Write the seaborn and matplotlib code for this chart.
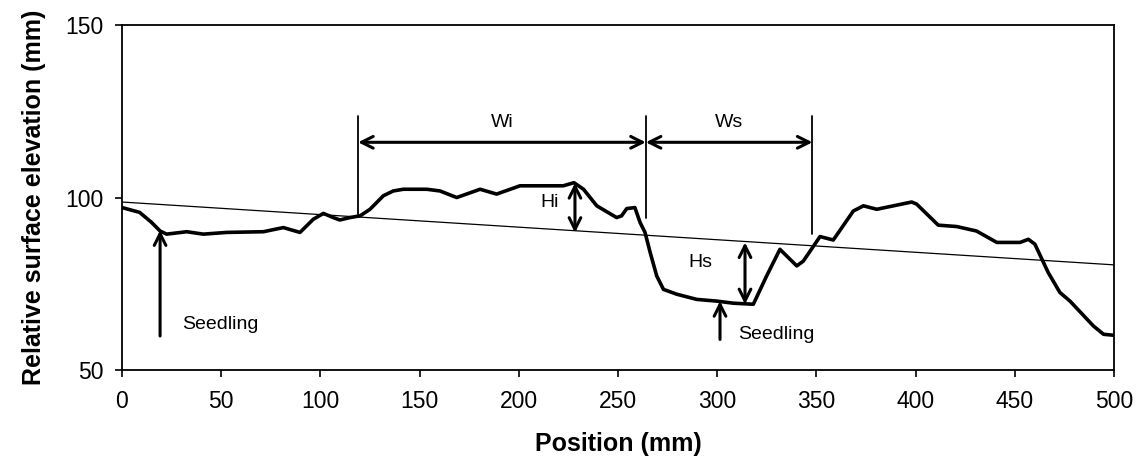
"""Surface elevation profile with mound / pit annotations."""

import matplotlib.pyplot as plt
import pandas as pd
import seaborn as sns

# ── data ──────────────────────────────────────────────────────────────────────
position = [0, 8.9, 14.9, 19.2, 22.5, 32.6, 41.0, 52.8, 71.3, 81.3, 89.7, 96.4,
            101.5, 106.5, 109.8, 114.9, 120.0, 125.0, 131.7, 136.7, 141.8, 153.6,
            160.3, 168.7, 180.5, 188.8, 200.6, 222.4, 227.8, 232.6, 239.3, 249.3,
            251.8, 254.4, 258.5, 261.1, 263.6, 266.2, 269.5, 272.9, 279.6, 289.7,
            299.8, 308.1, 318.2, 324.9, 331.6, 340.1, 343.4, 351.8, 358.5, 368.6,
            373.7, 380.4, 387.1, 398.0, 400.5, 411.4, 420.7, 430.7, 440.9, 452.6,
            456.8, 460.1, 466.8, 472.7, 477.8, 489.6, 494.7, 500]
elevation = [97.1, 95.7, 92.8, 90.3, 89.4, 90.1, 89.4, 89.9, 90.1, 91.3, 89.9, 93.7,
             95.4, 94.2, 93.5, 94.2, 94.7, 96.6, 100.5, 101.9, 102.4, 102.4,
             101.9, 100.0, 102.4, 101.0, 103.4, 103.4, 104.3, 102.4, 97.6, 94.2,
             94.7, 96.8, 97.1, 92.8, 89.9, 84.1, 77.3, 73.4, 72.0, 70.5,
             70.0, 69.4, 69.1, 77.3, 85.0, 80.2, 81.6, 88.7, 87.7, 96.1,
             97.6, 96.6, 97.4, 98.7, 98.1, 92.0, 91.6, 90.3, 87.0, 87.0,
             87.9, 86.5, 78.3, 72.5, 70.0, 62.8, 60.4, 60.1]

trend_x = [0, 500]
trend_y = [98.7, 80.5]

x_ticks = list(range(0, 501, 50))
y_ticks = [50, 100, 150]

# annotation anchors (data units)
wi_edges = (119, 264)
ws_edges = (264, 348)
bar_top, bar_level = 123.5, 116.0
bar_bottoms = {119: 94.5, 264: 94.2, 348: 89.4}
hi_x, hi_span = 228.3, (104.2, 89.8)
hs_x, hs_span = 314, (87.0, 69.1)
seedlings = [(19.2, 59.9, 90.5), (301.4, 58.9, 70.0)]

profile = pd.DataFrame({"position": position, "elevation": elevation})
trend = pd.DataFrame({"position": trend_x, "elevation": trend_y})

# ── canvas ────────────────────────────────────────────────────────────────────
sns.set_theme(style="ticks")
plt.rcParams["font.family"] = ["Liberation Sans", "DejaVu Sans"]
plt.rcParams["text.color"] = "black"
plt.rcParams["axes.labelcolor"] = "black"

fig = plt.figure(figsize=(11.39, 4.61), dpi=100, facecolor="white")
ax = fig.add_axes([0.1071, 0.197, 0.871, 0.749])

sns.lineplot(data=trend, x="position", y="elevation", ax=ax,
             color="black", linewidth=0.9)
sns.lineplot(data=profile, x="position", y="elevation", ax=ax,
             color="black", linewidth=2.6)

# ── annotations ───────────────────────────────────────────────────────────────
for xv, yb in bar_bottoms.items():
    ax.plot([xv, xv], [yb, bar_top], color="black", linewidth=1.3)

arrow = dict(arrowstyle="<->,head_length=0.7,head_width=0.35",
             color="black", lw=2.2, shrinkA=0, shrinkB=0)

for (a, b), lab in [(wi_edges, "Wi"), (ws_edges, "Ws")]:
    ax.annotate("", xy=(a, bar_level), xytext=(b, bar_level), arrowprops=arrow)
    ax.text((a + b) / 2, bar_level + 3.2, lab, ha="center", va="bottom",
            fontsize=14, color="black")

ax.annotate("", xy=(hi_x, hi_span[0]), xytext=(hi_x, hi_span[1]), arrowprops=arrow)
ax.text(hi_x - 8, 98.6, "Hi", ha="right", va="center", fontsize=14, color="black")

ax.annotate("", xy=(hs_x, hs_span[0]), xytext=(hs_x, hs_span[1]), arrowprops=arrow)
ax.text(291.3, 81.3, "Hs", ha="center", va="center", fontsize=14, color="black")

up = dict(arrowstyle="->,head_length=0.7,head_width=0.35",
          color="black", lw=2.2, shrinkA=0, shrinkB=0)
for xs, y0, y1 in seedlings:
    ax.annotate("", xy=(xs, y1), xytext=(xs, y0), arrowprops=up)
ax.text(30.2, 63.3, "Seedling", ha="left", va="center", fontsize=14, color="black")
ax.text(310.5, 60.4, "Seedling", ha="left", va="center", fontsize=14, color="black")

# ── axes ──────────────────────────────────────────────────────────────────────
ax.set_xlim(0, 500)
ax.set_ylim(50, 150)
ax.set_xticks(x_ticks)
ax.set_yticks(y_ticks)
ax.tick_params(axis="both", direction="out", length=5, width=1.2,
               labelsize=16.5, colors="black")
ax.tick_params(axis="x", pad=9)
ax.tick_params(axis="y", pad=8)
for spine in ax.spines.values():
    spine.set_visible(True)
    spine.set_color("black")
    spine.set_linewidth(1.3)

ax.set_xlabel("Position (mm)", fontsize=18, fontweight="bold", labelpad=14)
ax.set_ylabel("Relative surface elevation (mm)", fontsize=18,
              fontweight="bold", labelpad=14)
ax.grid(False)

fig.savefig("out.png", dpi=100, facecolor="white")
